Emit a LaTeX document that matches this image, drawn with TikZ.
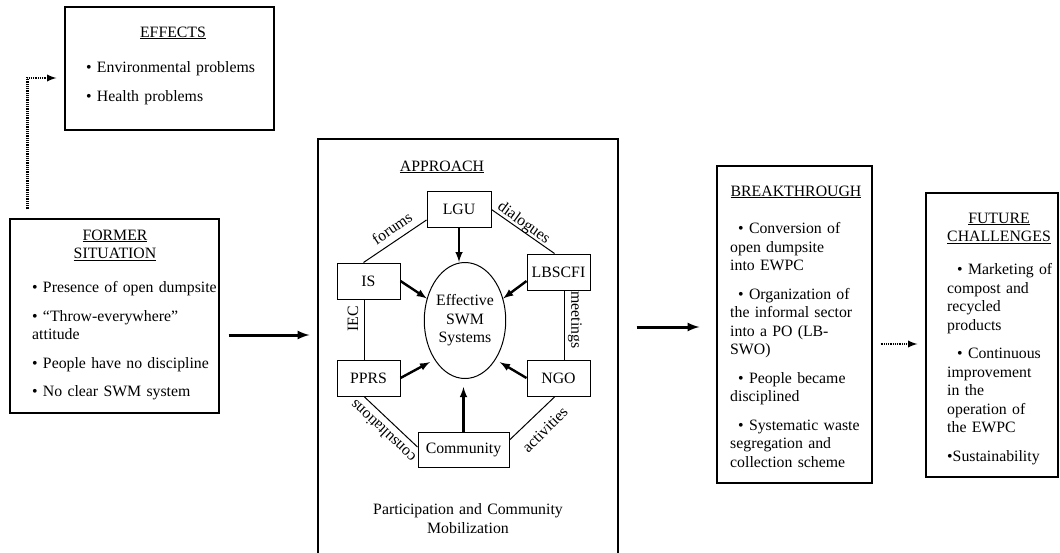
\documentclass[tikz,border=0pt]{standalone}
\usepackage{fontspec}
\setmainfont{Liberation Serif}
\usetikzlibrary{shapes.geometric}
\newcommand\fs{\fontsize{15.8}{18.5}\selectfont}
\newcommand\bul{\textbullet\ }
\begin{document}
\begin{tikzpicture}[x=1pt,y=-1pt,font=\fs,
box/.style={draw,line width=1.2pt,inner sep=0pt},
unit/.style={draw,line width=1pt,inner sep=0pt,minimum height=36pt},
para/.style={text width=#1,inner sep=0pt,anchor=base west,align=left,execute at begin node=\setlength{\parskip}{10pt}},
head/.style={text width=#1,inner sep=0pt,anchor=base,align=center},
lbl/.style={inner sep=0pt},
link/.style={line width=1pt},
push/.style={-latex,line width=2.4pt},
bigarrow/.style={-latex,line width=3pt},
dotarrow/.style={-latex,line width=2.2pt,dash pattern=on 1pt off 0.8pt}]
\useasboundingbox (0,0) rectangle (1060,552);
\node[box,minimum width=209pt,minimum height=123pt] (effects) at (169.5,68.5) {};
\node[box,minimum width=209pt,minimum height=194pt] (former) at (114.5,316) {};
\node[box,minimum width=300pt,minimum height=417pt] (approach) at (468,347.5) {};
\node[box,minimum width=155pt,minimum height=317pt] (break) at (794.5,324.5) {};
\node[box,minimum width=132pt,minimum height=284pt] (future) at (992,335) {};
\node[head=160pt] (effectshd) at (173,37) {\underline{EFFECTS}};
\node[para=185pt] (effectstxt) at (86,72.5) {\bul Environmental problems\par\bul Health problems};
\node[head=180pt] (formerhd) at (115,240) {\underline{FORMER}\\\underline{SITUATION}};
\node[para=186pt] (formertxt) at (32,292.5) {\bul Presence of open dumpsite\par\bul “Throw-everywhere”\\attitude\par\bul People have no discipline\par\bul No clear SWM system};
\node[head=120pt] (approachhd) at (442,171) {\underline{APPROACH}};
\node[head=250pt] (mobilization) at (468,514.5) {Participation and Community\\Mobilization};
\node[head=150pt] (breakhd) at (796,196) {\underline{BREAKTHROUGH}};
\node[para=138pt] (breaktxt) at (730,233.5) {\hspace*{8pt}\bul Conversion of\\open dumpsite\\into EWPC\par\hspace*{8pt}\bul Organization of\\the informal sector\\into a PO (LB-\\SWO)\par\hspace*{8pt}\bul People became\\disciplined\par\hspace*{8pt}\bul Systematic waste\\segregation and\\collection scheme};
\node[head=120pt] (futurehd) at (999,223) {\underline{FUTURE}\\\underline{CHALLENGES}};
\node[para=110pt] (futuretxt) at (947,274.5) {\hspace*{10pt}\bul Marketing of\\compost and\\recycled\\products\par\hspace*{10pt}\bul Continuous\\improvement\\in the\\operation of\\the EWPC\par\textbullet Sustainability};
\node[unit,minimum width=64pt] (lgu) at (459,209.5) {LGU};
\node[unit,minimum width=63pt] (is) at (368.5,281) {IS};
\node[unit,minimum width=63pt] (lbscfi) at (558.5,272) {LBSCFI};
\node[unit,minimum width=63pt] (pprs) at (368.5,378) {PPRS};
\node[unit,minimum width=63pt] (ngo) at (558.5,378) {NGO};
\node[unit,minimum width=91pt,minimum height=35pt] (community) at (463.5,449.5) {Community};
\node[draw,line width=1pt,ellipse,minimum width=72pt,minimum height=116pt,inner sep=0pt,align=center] (swm) at (465,320.5) {Effective\\SWM\\Systems};
\draw[link] ([yshift=8pt]lgu.south west) -- ([xshift=-5pt]is.north);
\draw[link] (lgu.east) -- ([xshift=-4pt]lbscfi.north);
\draw[link] ([xshift=-4.5pt]is.south) -- ([xshift=-4.5pt]pprs.north);
\draw[link] ([xshift=5.5pt]lbscfi.south) -- ([xshift=5.5pt]ngo.north);
\draw[link] ([xshift=-4.5pt]pprs.south) -- ([yshift=2.5pt]community.west);
\draw[link] ([xshift=-3.5pt]ngo.south) -- ([yshift=9.5pt]community.east);
\node[lbl,rotate=34.5] (forums) at (392,228) {forums};
\node[lbl,rotate=-36] (dialogues) at (523.5,223.5) {dialogues};
\node[lbl,rotate=90] (iec) at (353,319) {IEC};
\node[lbl,rotate=-90] (meetings) at (575,320) {meetings};
\node[lbl,rotate=136.6] (consultations) at (382.5,431.5) {consultations};
\node[lbl,rotate=45] (activities) at (545,429.5) {activities};
\draw[push] (lgu.south) -- (lgu.south |- swm.north);
\draw[push] (is.east) -- (swm.150);
\draw[push] ([yshift=-9pt]lbscfi.west) -- (swm.30);
\draw[push,shorten >=5pt] (pprs.east) -- (swm.232);
\draw[push,shorten >=5pt] (ngo.west) -- (swm.-52);
\draw[push,shorten >=8pt] (community.north) -- (community.north |- swm.south);
\draw[bigarrow] ([xshift=9pt,yshift=-19pt]former.east) -- ([xshift=-8pt,yshift=12.5pt]approach.west);
\draw[bigarrow] ([xshift=18pt,yshift=20.5pt]approach.east) -- ([xshift=-17pt,yshift=-2.5pt]break.west);
\draw[dotarrow] ([xshift=8pt,yshift=-19.5pt]break.east) -- ([xshift=-8pt,yshift=-9pt]future.west);
\draw[dotarrow] ([xshift=18pt,yshift=9pt]former.north west) |- ([xshift=-8pt,yshift=-9.5pt]effects.west);
\end{tikzpicture}
\end{document}
